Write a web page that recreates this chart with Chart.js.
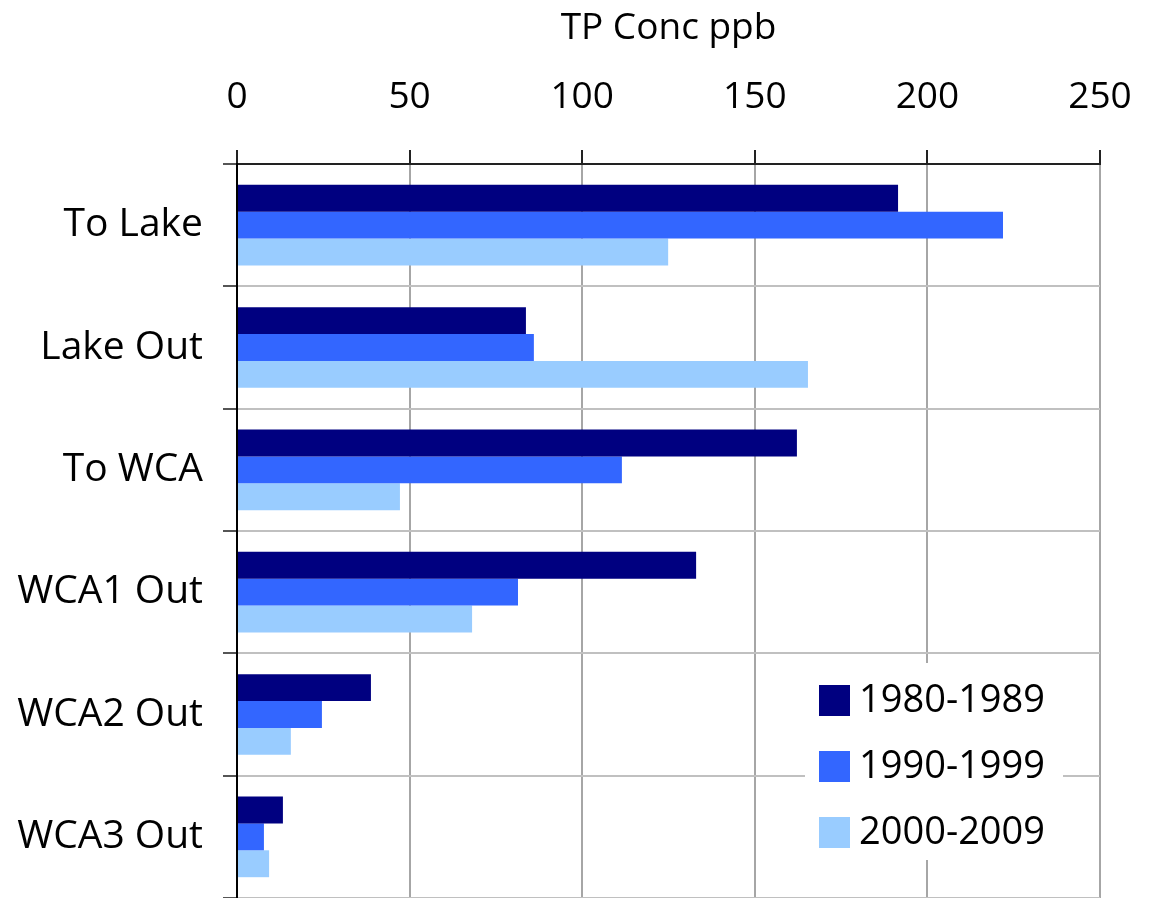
<!DOCTYPE html>
<html>
<head>
<meta charset="utf-8">
<script src="https://cdn.jsdelivr.net/npm/chart.js@4"></script>
<style>
  html, body { margin: 0; padding: 0; background: #fff; }
  #wrap { width: 1151px; height: 898px; }
</style>
</head>
<body>
<div id="wrap"><canvas id="tp"></canvas></div>
<script>
// TP concentration by site and decade
var sites = ["To Lake", "Lake Out", "To WCA", "WCA1 Out", "WCA2 Out", "WCA3 Out"];
var decades = ["1980-1989", "1990-1999", "2000-2009"];
var tp_1980s = [191.5, 83.7, 162.2, 133.0, 38.8, 13.3];
var tp_1990s = [221.9, 86.0, 111.5, 81.4, 24.6, 7.8];
var tp_2000s = [124.9, 165.4, 47.2, 68.1, 15.6, 9.3];
var xTicks = [0, 50, 100, 150, 200, 250];

var FONT = "'Open Sans', sans-serif";

// legend drawn inside the plot, bottom right
var boxLegend = {
  id: "boxLegend",
  afterDraw: function (chart) {
    var c = chart.ctx;
    c.save();
    c.fillStyle = "#fff";
    c.fillRect(805, 663, 258, 197);
    c.font = "38px " + FONT;
    c.textBaseline = "middle";
    chart.data.datasets.forEach(function (ds, i) {
      var y = 685 + i * 66;
      c.fillStyle = ds.backgroundColor;
      c.fillRect(819, y, 31, 31);
      c.fillStyle = "#000";
      c.fillText(ds.label, 859, y + 16);
    });
    c.restore();
  },
};

var ctx = document.getElementById("tp").getContext("2d");
var myChart = new Chart(ctx, {
  type: "bar",
  data: {
    labels: sites,
    datasets: [
      { label: decades[0], data: tp_1980s, backgroundColor: "#000080" },
      { label: decades[1], data: tp_1990s, backgroundColor: "#3366FF" },
      { label: decades[2], data: tp_2000s, backgroundColor: "#99CCFF" },
    ],
  },
  options: {
    indexAxis: "y",
    responsive: true,
    maintainAspectRatio: false,
    animation: false,
    layout: { autoPadding: false, padding: { right: 51, top: 0, bottom: -3, left: 0 } },
    datasets: { bar: { categoryPercentage: 0.66, barPercentage: 1.0 } },
    plugins: {
      legend: { display: false },
      tooltip: { enabled: false },
    },
    scales: {
      x: {
        position: "top",
        min: 0,
        max: 250,
        afterBuildTicks: function (axis) {
          axis.ticks = xTicks.map(function (v) { return { value: v }; });
        },
        afterFit: function (axis) {
          axis.height = 164;
          axis.paddingLeft = 0;
          axis.paddingRight = 0;
        },
        grid: { color: "#a6a6a6", lineWidth: 2, tickLength: 14, tickColor: "#222" },
        border: { color: "#222", width: 2 },
        ticks: { color: "#000", font: { family: FONT, size: 37 }, padding: 30, maxRotation: 0 },
        title: {
          display: true,
          text: "TP Conc ppb",
          color: "#000",
          font: { family: FONT, size: 37 },
          padding: { top: 6, bottom: 0 },
        },
      },
      y: {
        afterFit: function (axis) {
          axis.width = 237;
          axis.paddingTop = 0;
          axis.paddingBottom = 0;
        },
        grid: { offset: true, color: "#c0c0c0", lineWidth: 2, tickLength: 14, tickColor: "#555" },
        border: { color: "#000", width: 2 },
        ticks: { color: "#000", font: { family: FONT, size: 39 }, padding: 20 },
      },
    },
  },
  plugins: [boxLegend],
});
</script>
</body>
</html>
